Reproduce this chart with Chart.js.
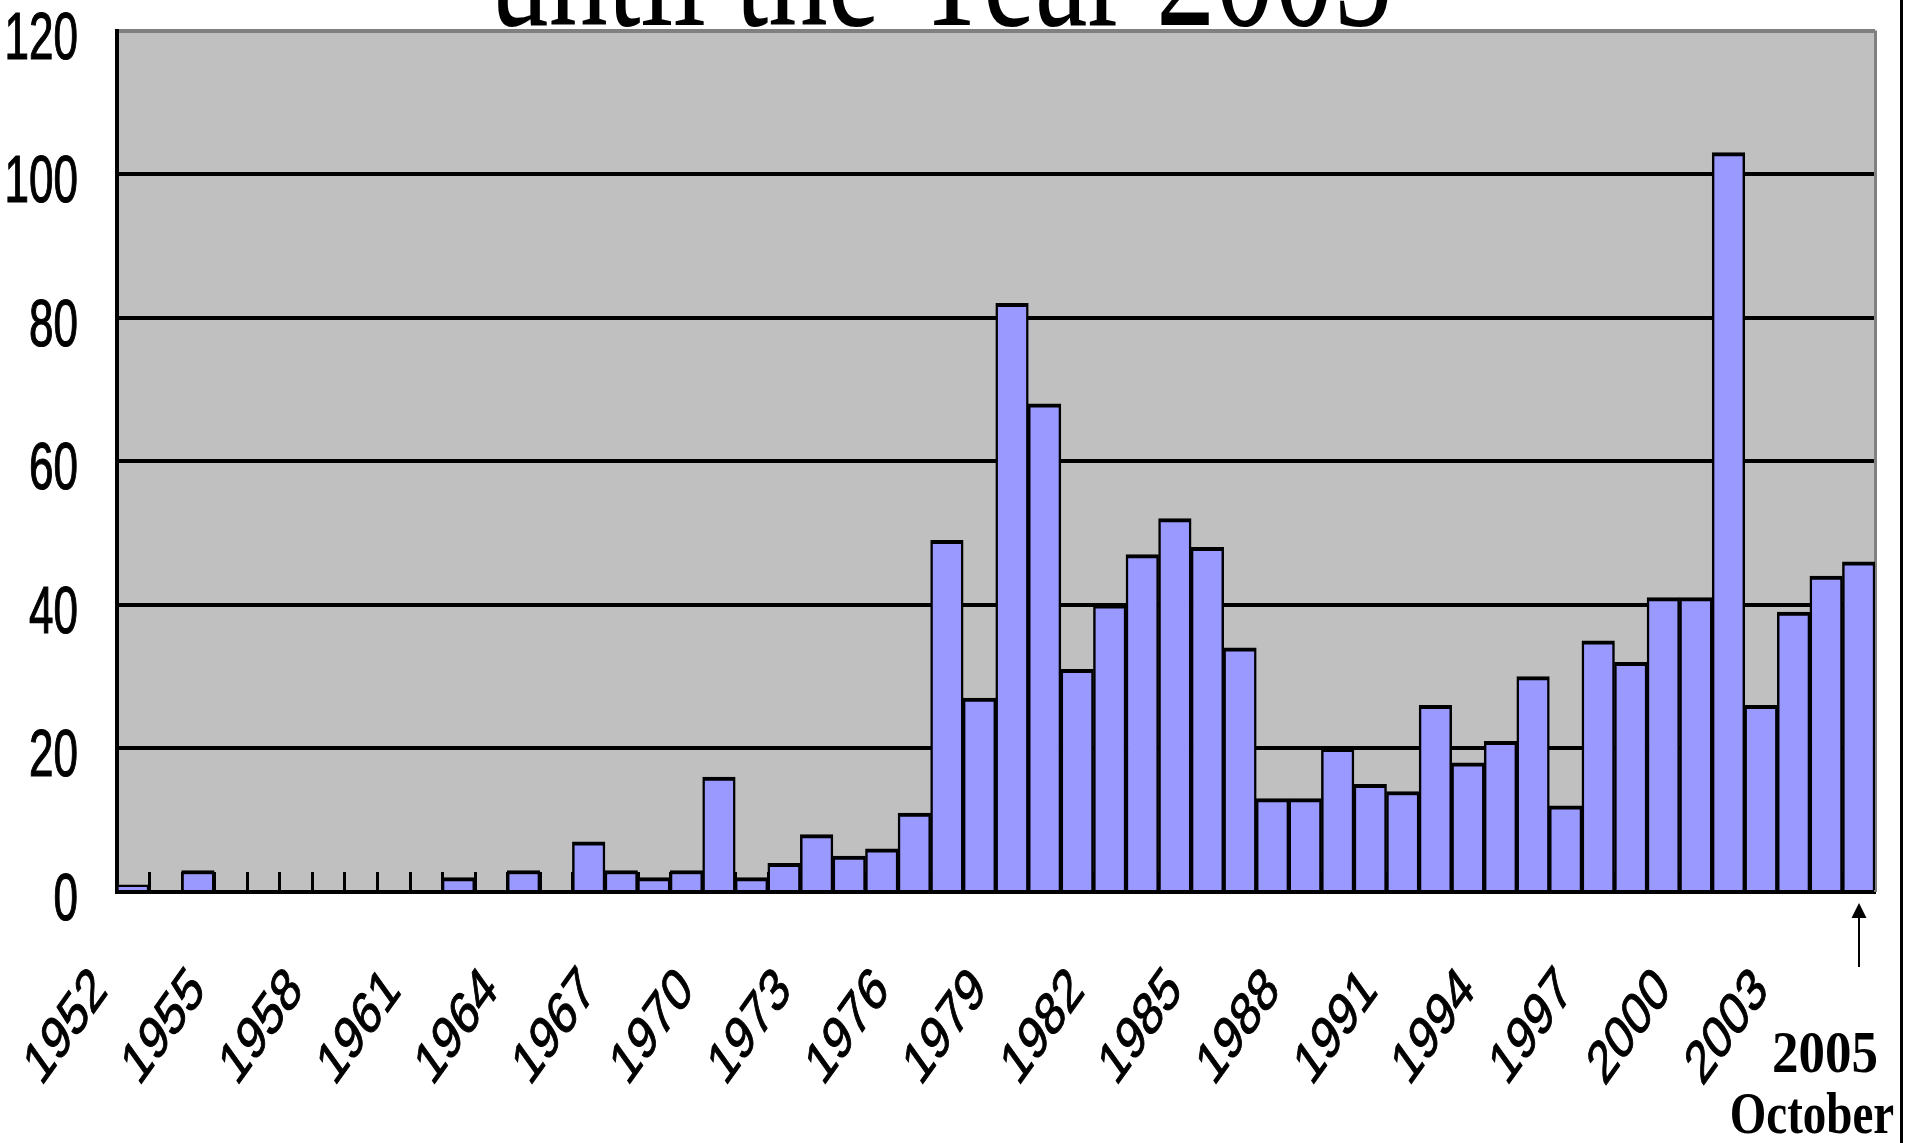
<!DOCTYPE html>
<html>
<head>
<meta charset="utf-8">
<script src="https://cdn.jsdelivr.net/npm/chart.js@4.4.0/dist/chart.umd.min.js"></script>
<style>
  html, body { margin: 0; padding: 0; background: #fff; }
  #chart { display: block; }
</style>
</head>
<body>
<canvas id="chart" width="1905" height="1143"></canvas>
<script>
  // Years on the x axis
  const years = [
    '1952', '1953', '1954', '1955', '1956', '1957', '1958', '1959', '1960', '1961',
    '1962', '1963', '1964', '1965', '1966', '1967', '1968', '1969', '1970', '1971',
    '1972', '1973', '1974', '1975', '1976', '1977', '1978', '1979', '1980', '1981',
    '1982', '1983', '1984', '1985', '1986', '1987', '1988', '1989', '1990', '1991',
    '1992', '1993', '1994', '1995', '1996', '1997', '1998', '1999', '2000', '2001',
    '2002', '2003', '2004', '2005'
  ];

  // Count per year
  const counts = [
    1, 0, 3, 0, 0, 0, 0, 0, 0, 0,
    2, 0, 3, 0, 7, 3, 2, 3, 16, 2,
    4, 8, 5, 6, 11, 49, 27, 82, 68, 31,
    40, 47, 52, 48, 34, 13, 13, 20, 15, 14,
    26, 18, 21, 30, 12, 35, 32, 41, 41, 103,
    26, 39, 44, 46
  ];

  // Labels shown under the x axis
  const xTickLabels = ['1952', '1955', '1958', '1961', '1964', '1967', '1970', '1973', '1976',
    '1979', '1982', '1985', '1988', '1991', '1994', '1997', '2000', '2003'];

  // Ticks of the y axis
  const yTicks = [0, 20, 40, 60, 80, 100, 120];

  const titleText = 'until the Year 2005';
  const lastYearText = '2005';
  const lastMonthText = 'October';

  // Background, inner tick marks and all the text
  const decor = {
    id: 'decor',
    beforeDraw(chart) {
      const { ctx, chartArea: a } = chart;
      ctx.save();
      ctx.fillStyle = '#c0c0c0';
      ctx.fillRect(a.left, a.top, a.right - a.left, a.bottom - a.top);
      ctx.restore();
    },
    beforeDatasetsDraw(chart) {
      const { ctx, chartArea: a, scales: { x } } = chart;
      ctx.save();
      ctx.strokeStyle = '#808080';
      ctx.lineWidth = 3;
      ctx.beginPath();
      ctx.moveTo(a.right + 0.5, a.top);
      ctx.lineTo(a.right + 0.5, a.bottom);
      ctx.stroke();
      ctx.strokeStyle = '#000';
      ctx.beginPath();
      for (let i = 1; i < years.length; i++) {
        const px = Math.round((x.getPixelForValue(i - 1) + x.getPixelForValue(i)) / 2) + 0.5;
        ctx.moveTo(px, a.bottom);
        ctx.lineTo(px, a.bottom - 20);
      }
      ctx.stroke();
      ctx.restore();
    },
    afterDraw(chart) {
      const { ctx, chartArea: a, scales: { x, y } } = chart;
      ctx.save();
      ctx.fillStyle = '#000';

      // y labels
      ctx.font = '44px "Liberation Sans", Arial, sans-serif';
      ctx.textAlign = 'right';
      ctx.textBaseline = 'alphabetic';
      ctx.strokeStyle = '#000';
      ctx.lineWidth = 0.8;
      yTicks.forEach(v => {
        ctx.save();
        ctx.translate(78, y.getPixelForValue(v) + 28);
        ctx.scale(1, 1.5);
        ctx.fillText(String(v), 0, 0);
        ctx.strokeText(String(v), 0, 0);
        ctx.restore();
      });

      // x labels
      ctx.font = '43px "Liberation Sans", Arial, sans-serif';
      ctx.textAlign = 'center';
      ctx.textBaseline = 'middle';
      xTickLabels.forEach(lbl => {
        const px = x.getPixelForValue(years.indexOf(lbl));
        ctx.save();
        ctx.translate(px - 66, a.bottom + 136);
        ctx.scale(1, 1.4);
        ctx.rotate(-Math.PI / 4);
        ctx.fillText(lbl, 0, 0);
        ctx.strokeText(lbl, 0, 0);
        ctx.restore();
      });

      // title, cut by the top edge
      ctx.font = '118px "Liberation Serif", "Times New Roman", serif';
      ctx.textBaseline = 'alphabetic';
      ctx.save();
      ctx.translate(941, 25);
      ctx.scale(1, 1.4);
      ctx.fillText(titleText, 0, 0);
      ctx.restore();

      // 2005 / October note
      ctx.font = 'bold 53px "Liberation Serif", "Times New Roman", serif';
      ctx.save();
      ctx.translate(1825, 1072);
      ctx.scale(1, 1.1);
      ctx.fillText(lastYearText, 0, 0);
      ctx.restore();
      ctx.font = 'bold 47px "Liberation Serif", "Times New Roman", serif';
      ctx.save();
      ctx.translate(1812, 1133);
      ctx.scale(1, 1.24);
      ctx.fillText(lastMonthText, 0, 0);
      ctx.restore();

      // arrow under the last bar
      const ax = Math.round(x.getPixelForValue(years.length - 1));
      ctx.lineWidth = 2;
      ctx.beginPath();
      ctx.moveTo(ax, 967);
      ctx.lineTo(ax, 914);
      ctx.stroke();
      ctx.beginPath();
      ctx.moveTo(ax, 903);
      ctx.lineTo(ax - 7.5, 918);
      ctx.lineTo(ax + 7.5, 918);
      ctx.closePath();
      ctx.fill();

      // frame line on the right
      ctx.lineWidth = 3;
      ctx.beginPath();
      ctx.moveTo(1901.5, 0);
      ctx.lineTo(1901.5, 1143);
      ctx.stroke();
      ctx.restore();
    }
  };

  new Chart(document.getElementById('chart'), {
    type: 'bar',
    data: {
      labels: years,
      datasets: [{
        data: counts,
        backgroundColor: '#9999ff',
        borderColor: '#000',
        borderWidth: { top: 4, left: 2.5, right: 2.5, bottom: 0 },
        barPercentage: 1,
        categoryPercentage: 1
      }]
    },
    options: {
      responsive: false,
      animation: false,
      devicePixelRatio: 1,
      layout: { padding: { left: 116.5, top: 30.5, right: 30, bottom: 243 } },
      plugins: { legend: { display: false }, tooltip: { enabled: false }, title: { display: false } },
      scales: {
        x: {
          offset: true,
          grid: { display: false },
          border: { display: true, color: '#000', width: 4 },
          ticks: { display: false }
        },
        y: {
          min: 0,
          max: 120,
          afterBuildTicks: scale => { scale.ticks = yTicks.map(v => ({ value: v })); },
          grid: {
            drawTicks: false,
            color: c => c.tick && c.tick.value === 120 ? '#808080' : '#000',
            lineWidth: 4
          },
          border: { display: true, color: '#000', width: 4 },
          ticks: { display: false }
        }
      }
    },
    plugins: [decor]
  });
</script>
</body>
</html>
